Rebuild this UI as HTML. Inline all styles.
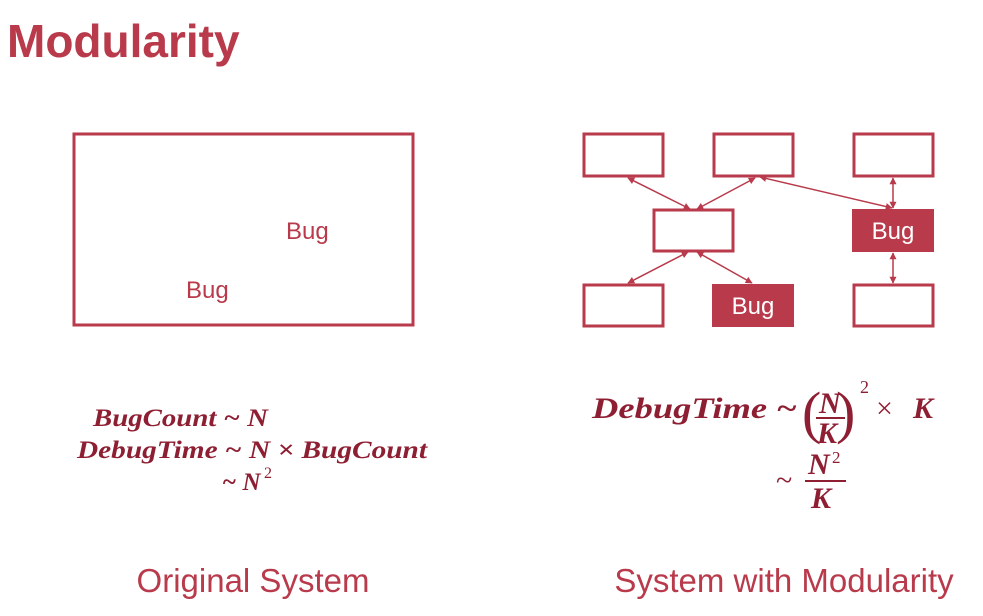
<!DOCTYPE html>
<html><head><meta charset="utf-8"><style>
html,body{margin:0;padding:0;background:#fff;}
svg{display:block;}
</style></head><body>
<svg width="983" height="616" viewBox="0 0 983 616" xmlns="http://www.w3.org/2000/svg">
<defs>
<marker id="a" viewBox="0 0 10 10" refX="9" refY="5" markerWidth="7" markerHeight="7" orient="auto-start-reverse" markerUnits="userSpaceOnUse">
<path d="M0,0 L10,5 L0,10 z" fill="#b83a4b"/></marker>
</defs>
<text x="7" y="57" font-family="Liberation Sans, sans-serif" font-weight="bold" font-size="46" fill="#b83a4b">Modularity</text>
<rect x="74" y="134" width="339" height="191" fill="none" stroke="#b83a4b" stroke-width="3"/>
<text x="286" y="239" font-family="Liberation Sans, sans-serif" font-size="24" fill="#b83a4b">Bug</text>
<text x="186" y="298" font-family="Liberation Sans, sans-serif" font-size="24" fill="#b83a4b">Bug</text>
<g fill="none" stroke="#b83a4b" stroke-width="3">
<rect x="584" y="134" width="79" height="42"/>
<rect x="714" y="134" width="79" height="42"/>
<rect x="854" y="134" width="79" height="42"/>
<rect x="654" y="210" width="79" height="41"/>
<rect x="584" y="285" width="79" height="41"/>
<rect x="854" y="285" width="79" height="41"/>
</g>
<rect x="852" y="209" width="82" height="43" fill="#b83a4b"/>
<rect x="712" y="284" width="82" height="43" fill="#b83a4b"/>
<text x="893" y="239" text-anchor="middle" font-family="Liberation Sans, sans-serif" font-size="24" fill="#fff">Bug</text>
<text x="753" y="314" text-anchor="middle" font-family="Liberation Sans, sans-serif" font-size="24" fill="#fff">Bug</text>
<g stroke="#b83a4b" stroke-width="1.5" marker-start="url(#a)" marker-end="url(#a)">
<line x1="628" y1="178" x2="690" y2="209"/>
<line x1="755" y1="178" x2="697" y2="209"/>
<line x1="760" y1="177" x2="892" y2="208"/>
<line x1="893" y1="178" x2="893" y2="208"/>
<line x1="893" y1="253" x2="893" y2="283"/>
<line x1="688" y1="252" x2="628" y2="283"/>
<line x1="697" y1="252" x2="752" y2="283"/>
</g>
<g font-family="Liberation Serif, serif" font-style="italic" font-weight="bold" font-size="25" fill="#8e1f33">
<text x="93" y="426" textLength="175" lengthAdjust="spacingAndGlyphs">BugCount ~ N</text>
<text x="77" y="458" textLength="350" lengthAdjust="spacingAndGlyphs">DebugTime ~ N × BugCount</text>
<text x="222" y="490">~ N</text>
<text x="264" y="478" font-size="16" font-style="normal" font-weight="normal">2</text>
</g>
<g font-family="Liberation Serif, serif" font-style="italic" font-weight="bold" font-size="30" fill="#8e1f33">
<text x="592" y="418" textLength="205" lengthAdjust="spacingAndGlyphs">DebugTime ~</text>
<text x="802" y="432" font-size="58" font-style="normal" font-weight="normal">(</text>
<text x="819" y="413">N</text>
<line x1="816" y1="418" x2="845" y2="418" stroke="#8e1f33" stroke-width="2"/>
<text x="817" y="443">K</text>
<text x="836" y="432" font-size="58" font-style="normal" font-weight="normal">)</text>
<text x="860" y="393" font-size="18" font-style="normal" font-weight="normal">2</text>
<text x="876" y="418" font-style="normal" font-weight="normal">×</text>
<text x="913" y="418">K</text>
<text x="776" y="490" font-style="normal" font-weight="normal">~</text>
<text x="808" y="474">N</text>
<text x="832" y="463" font-size="17" font-style="normal" font-weight="normal">2</text>
<line x1="805" y1="481" x2="846" y2="481" stroke="#8e1f33" stroke-width="2"/>
<text x="811" y="508">K</text>
</g>
<text x="253" y="592" text-anchor="middle" font-family="Liberation Sans, sans-serif" font-size="33" fill="#b83a4b">Original System</text>
<text x="784" y="592" text-anchor="middle" font-family="Liberation Sans, sans-serif" font-size="33" fill="#b83a4b">System with Modularity</text>
</svg>
</body></html>
